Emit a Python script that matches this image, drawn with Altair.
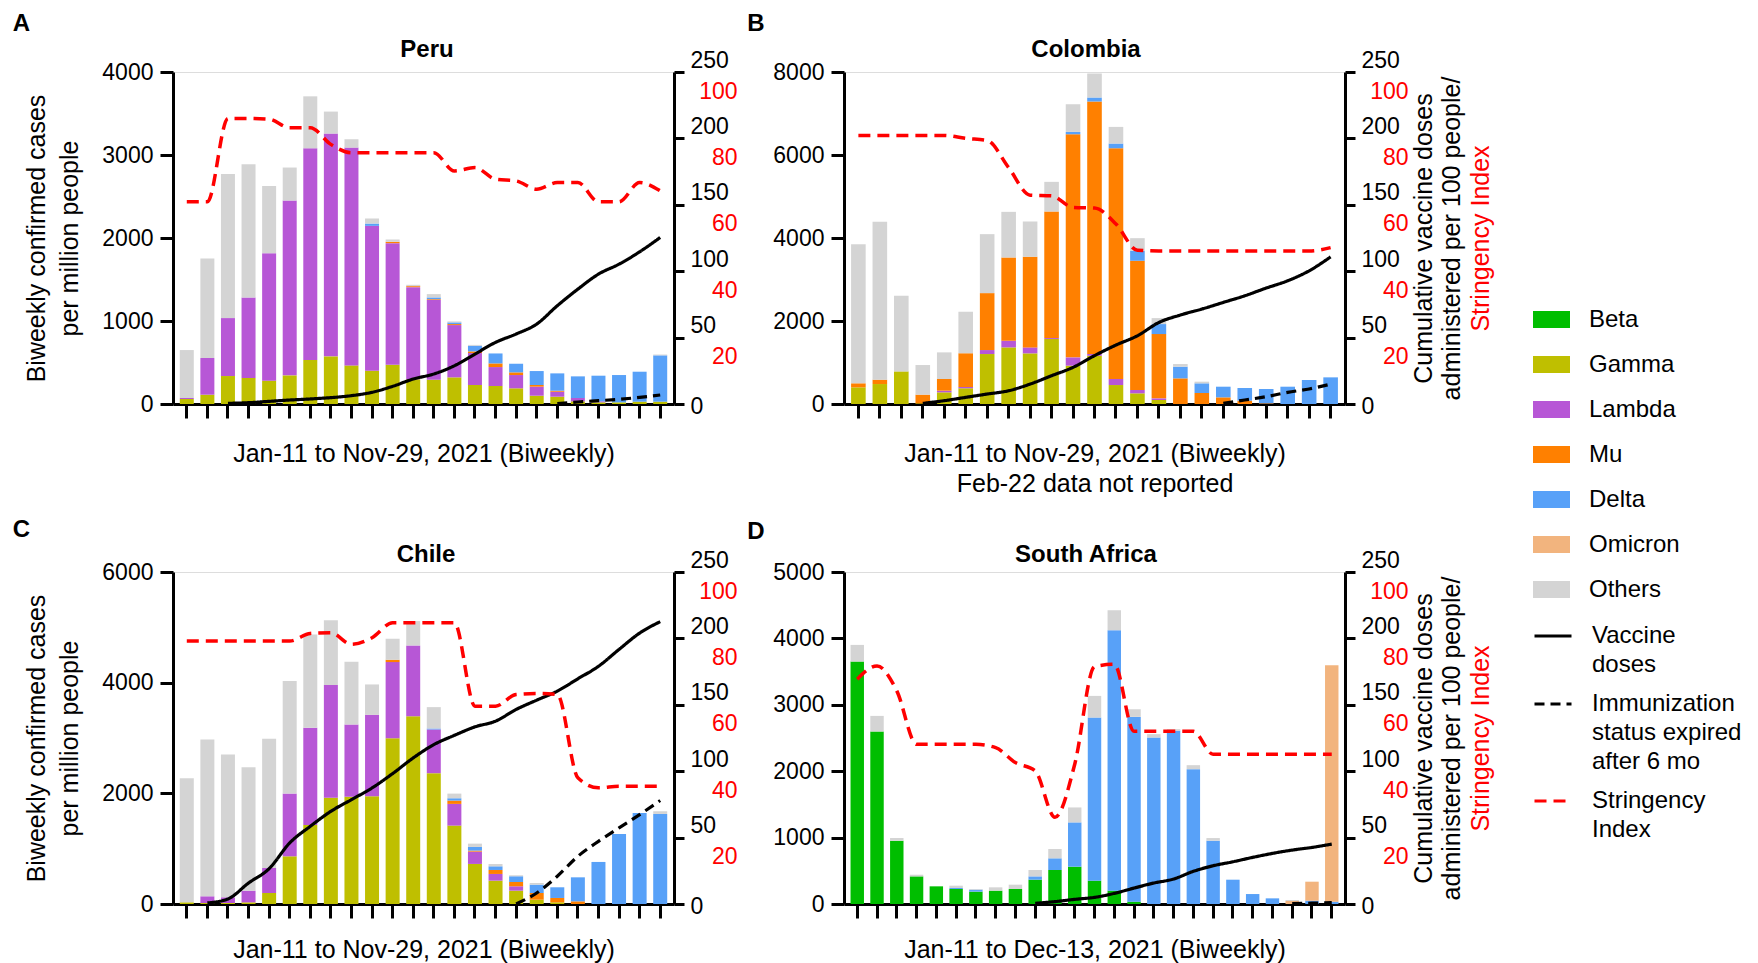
import altair as alt
import pandas as pd

FONT = "Liberation Sans, Arial, Helvetica, sans-serif"

# ---------------- categories ----------------
DATES = ["Jan-11", "Jan-25", "Feb-08", "Feb-22", "Mar-08", "Mar-22", "Apr-05", "Apr-19",
         "May-03", "May-17", "May-31", "Jun-14", "Jun-28", "Jul-12", "Jul-26", "Aug-09",
         "Aug-23", "Sep-06", "Sep-20", "Oct-04", "Oct-18", "Nov-01", "Nov-15", "Nov-29", "Dec-13"]
DATES_PERU = DATES[:24]
DATES_CHILE = DATES[:24]
DATES_COLOMBIA = [d for d in DATES[:24] if d != "Feb-22"]
DATES_SA = DATES

VARIANTS = ["Beta", "Gamma", "Lambda", "Mu", "Delta", "Omicron", "Others"]
VARIANT_COLORS = ["#00be00", "#bfbf00", "#b757d6", "#ff8000", "#58a1f8", "#f2b47e", "#d4d4d4"]

LINE_SERIES = ["Vaccine doses", "Immunization status expired after 6 mo", "Stringency Index"]
LINE_COLORS = ["#000000", "#000000", "#ff0000"]
LINE_DASHES = [[1, 0], [10, 6], [12, 7]]
LINE_LABELS = {"Vaccine doses": ["Vaccine", "doses"],
               "Immunization status expired after 6 mo": ["Immunization", "status expired", "after 6 mo"],
               "Stringency Index": ["Stringency", "Index"]}

# ---------------- Peru ----------------
PERU_GAMMA = [60, 112, 337, 313, 281, 345, 530, 574, 465, 401, 473, 297, 293, 321, 229, 217, 189, 100, 88, 32, 20, 20, 28, 28]
PERU_LAMBDA = [12, 442, 698, 971, 1536, 2106, 2551, 2684, 2624, 1745, 1465, 1111, 963, 630, 385, 228, 160, 109, 60, 40, 12, 0, 0, 0]
PERU_MU = [0, 0, 0, 0, 0, 0, 0, 0, 0, 0, 16, 12, 8, 12, 20, 44, 32, 20, 12, 0, 0, 0, 0, 0]
PERU_DELTA = [0, 0, 0, 0, 0, 0, 0, 0, 0, 28, 0, 0, 20, 20, 68, 120, 104, 168, 209, 261, 309, 329, 361, 558]
PERU_OTHERS = [578, 1199, 1737, 1605, 811, 398, 626, 265, 101, 61, 28, 16, 40, 12, 10, 0, 0, 0, 0, 0, 0, 0, 0, 10]
PERU_VACCINE_START = "Feb-08"
PERU_VACCINE = [0.5, 1, 2, 3, 3.8, 4.8, 6.3, 8.8, 13.3, 18.8, 22.6, 28.8, 37.6, 46.4, 52.7, 60.2, 74, 86.5, 97.8, 105.3, 114.6, 125.4]
PERU_IMMUN_START = "Sep-20"
PERU_IMMUN = [0.3, 1.5, 2.5, 3.5, 5, 6.8]
PERU_STRINGENCY = [60.9, 60.9, 86, 86, 85.8, 83.2, 83.2, 78.2, 75.7, 75.7, 75.7, 75.7, 75.7, 70.2, 71.2, 67.7, 67.2, 64.7, 66.7, 66.7, 60.9, 60.9, 66.7, 64.2]

# ---------------- Colombia ----------------
COL_GAMMA = [401, 481, 786, 16, 281, 377, 1204, 1364, 1220, 1565, 923, 1164, 457, 257, 96, 0, 0, 0, 0, 0, 0, 0, 0]
COL_LAMBDA = [0, 0, 0, 0, 40, 32, 96, 161, 144, 24, 201, 40, 145, 80, 40, 0, 0, 0, 0, 0, 0, 0, 0]
COL_MU = [97, 105, 0, 209, 281, 811, 1372, 2006, 2183, 3049, 5376, 6083, 5561, 3114, 1549, 618, 265, 160, 80, 16, 0, 0, 0]
COL_DELTA = [0, 0, 0, 0, 0, 0, 0, 0, 0, 0, 56, 96, 113, 241, 241, 281, 233, 257, 305, 345, 417, 578, 642]
COL_OTHERS = [3354, 3804, 1822, 714, 642, 1003, 1421, 1099, 851, 715, 667, 578, 401, 304, 144, 64, 40, 0, 0, 0, 0, 0, 0]
COL_VACCINE_START = "Mar-08"
COL_VACCINE = [0.5, 2.5, 5, 7.5, 10, 15, 21.3, 27.6, 36.4, 44.4, 51.4, 61.4, 67, 71.5, 76.5, 81.5, 87.3, 92.8, 100.3, 110.8]
COL_IMMUN_START = "Sep-20"
COL_IMMUN = [0.5, 3, 5.5, 8.8, 11.3, 15]
COL_STRINGENCY = [80.9, 80.9, 80.9, 80.9, 80.9, 80, 79.4, 71.2, 62.9, 62.7, 59.2, 59, 54.2, 46.3, 46.1, 46.1, 46.1, 46.1, 46.1, 46.1, 46.1, 46.1, 47.1]

# ---------------- Chile ----------------
CHILE_GAMMA = [30, 18, 18, 30, 199, 862, 1429, 1918, 1936, 1948, 2997, 3395, 2364, 1417, 724, 422, 241, 78, 30, 0, 0, 0, 0, 0]
CHILE_LAMBDA = [0, 121, 103, 211, 452, 1134, 1755, 2038, 1308, 1471, 1375, 1278, 790, 392, 223, 121, 79, 0, 0, 0, 0, 0, 0, 0]
CHILE_MU = [0, 0, 0, 0, 0, 0, 0, 0, 0, 0, 42, 0, 0, 60, 18, 72, 78, 121, 79, 48, 0, 0, 0, 0]
CHILE_DELTA = [0, 0, 0, 0, 0, 0, 0, 0, 0, 0, 0, 0, 18, 42, 66, 66, 103, 151, 193, 434, 760, 1266, 1646, 1628]
CHILE_OTHERS = [2243, 2834, 2580, 2231, 2334, 2032, 1688, 1170, 1134, 549, 380, 440, 386, 84, 60, 42, 18, 30, 0, 0, 0, 0, 0, 48]
CHILE_VACCINE_START = "Jan-25"
CHILE_VACCINE = [0.8, 3.8, 15.8, 26.6, 46, 58.5, 69.8, 78.6, 87.4, 98.2, 110, 120, 127, 133.4, 137.7, 146.5, 153.5, 160.3, 169.6, 179, 191.7, 204, 212.6]
CHILE_IMMUN_START = "Aug-23"
CHILE_IMMUN = [0, 8.3, 20.9, 35.9, 47.2, 57.3, 67.3, 77.9]
CHILE_STRINGENCY = [79.2, 79.2, 79.2, 79.2, 79.2, 79.2, 81.5, 81.7, 78.2, 80.2, 84.7, 84.7, 84.7, 84.7, 59.6, 59.6, 63.1, 63.4, 63.1, 38, 35, 35.5, 35.5, 35.5]

# ---------------- South Africa ----------------
SA_BETA = [3651, 2598, 953, 416, 266, 226, 186, 201, 226, 366, 512, 562, 351, 201, 35, 0, 0, 0, 0, 0, 0, 0, 0, 0, 0]
SA_DELTA = [0, 0, 0, 0, 0, 15, 30, 0, 0, 50, 176, 667, 2457, 3922, 2783, 2508, 2608, 2031, 953, 366, 150, 85, 0, 50, 35]
SA_OMICRON = [0, 0, 0, 0, 0, 0, 0, 0, 0, 0, 0, 0, 0, 0, 0, 0, 0, 0, 0, 0, 0, 0, 45, 286, 3561]
SA_OTHERS = [251, 235, 40, 25, 0, 35, 10, 50, 65, 96, 140, 225, 326, 301, 115, 50, 25, 60, 40, 0, 0, 0, 15, 0, 0]
SA_VACCINE_START = "May-17"
SA_VACCINE = [0.5, 1.8, 3.5, 5, 8, 12, 15.8, 18.8, 24.6, 28.8, 31.8, 35.1, 38.1, 40.6, 42.6, 45.1]
SA_IMMUN_START = "Nov-15"
SA_IMMUN = [0.3, 0.6, 1.0]
SA_STRINGENCY = [67.7, 71.7, 64.2, 48.1, 48.1, 48.1, 48.1, 47.1, 42.6, 40.1, 26.1, 42.1, 71.5, 72.2, 52, 52, 52, 52, 45.1, 45.1, 45.1, 45.1, 45.1, 45.1, 45.1]

PANEL_W = 501
PANEL_H = 332

label_expr = " : ".join(
    f"datum.label == '{k}' ? {v!r}" for k, v in LINE_LABELS.items()
) + " : datum.label"

FILL_LEGEND = alt.Legend(
    title=None, orient="none", legendX=1360, legendY=229, padding=0,
    symbolType="M-1,-0.46H1V0.46H-1Z", symbolSize=1369, symbolStrokeWidth=0, symbolOpacity=1,
    labelFont=FONT, labelFontSize=24, labelColor="black", labelOffset=19, labelLimit=300,
    rowPadding=14,
)
LINE_LEGEND = alt.Legend(
    title=None, orient="none", legendX=1360, legendY=544, padding=0,
    symbolType="stroke", symbolSize=1369, symbolStrokeWidth=3,
    labelFont=FONT, labelFontSize=24, labelColor="black", labelOffset=19, labelLimit=300,
    labelBaseline="middle", labelExpr=label_expr, rowPadding=7,
)


def panel(name, letter, dates, variants, vaccine_start, vaccine, immun_start, immun,
          stringency, ymax, ystep, xtitle, xtitle_y, left_title, right_title,
          letter_xy, name_xy):
    rows = []
    for v, vals in variants.items():
        for d, val in zip(dates, vals):
            rows.append({"date": d, "variant": v, "order": VARIANTS.index(v), "value": val})
    bars_df = pd.DataFrame(rows)

    lrows = []
    s = dates.index(vaccine_start)
    for i, val in enumerate(vaccine):
        lrows.append({"date": dates[s + i], "idx": s + i, "series": LINE_SERIES[0], "value": val})
    s = dates.index(immun_start)
    for i, val in enumerate(immun):
        lrows.append({"date": dates[s + i], "idx": s + i, "series": LINE_SERIES[1], "value": val})
    vac_df = pd.DataFrame(lrows)

    str_df = pd.DataFrame({"date": dates, "idx": list(range(len(dates))),
                           "series": [LINE_SERIES[2]] * len(dates), "value": stringency})

    x_axis_kw = dict(labels=False, ticks=True, tickSize=14, tickWidth=3, tickColor="black",
                     domainWidth=3, domainColor="black", grid=False,
                     titleX=PANEL_W / 2, titleY=xtitle_y, titleAlign="center", titleBaseline="alphabetic",
                     titleFontSize=25, titleFont=FONT, titleFontWeight="normal", titleLineHeight=30,
                     titleColor="black")
    x = alt.X("date:O", scale=alt.Scale(domain=dates, paddingInner=0.32, paddingOuter=0.33),
              axis=alt.Axis(title=xtitle, **x_axis_kw))

    left_kw = dict(orient="left", values=list(range(0, ymax + 1, ystep)), format="d", domainWidth=3,
                   domainColor="black", tickWidth=3, tickSize=13, tickColor="black",
                   labelFontSize=23, labelFont=FONT, labelColor="black", labelPadding=7,
                   labelFlush=False, labelOverlap=False, grid=False,
                   titleAngle=270, titleX=-136.5, titleY=PANEL_H / 2, titleAlign="center",
                   titleBaseline="middle", titleFontSize=25, titleFont=FONT,
                   titleFontWeight="normal", titleLineHeight=33, titleColor="black")
    bars = alt.Chart(bars_df).mark_bar().encode(
        x=x,
        y=alt.Y("value:Q", stack="zero", scale=alt.Scale(domain=[0, ymax], nice=False),
                axis=alt.Axis(title=left_title, **left_kw)),
        color=alt.Color("variant:N", scale=alt.Scale(domain=VARIANTS, range=VARIANT_COLORS),
                        legend=FILL_LEGEND),
        order=alt.Order("order:Q"),
    )

    right_kw = dict(orient="right", values=[0, 50, 100, 150, 200, 250], format="d", domainWidth=3,
                    domainColor="black", tickWidth=3, tickSize=10, tickColor="black",
                    labelFontSize=23, labelFont=FONT, labelColor="black", labelPadding=6,
                    labelAlign="left", labelBaseline="middle", labelFlush=False, labelOverlap=False,
                    labelOffset={"condition": {"test": "datum.value == 0", "value": 2}, "value": -12},
                    grid=False, titleAngle=270, titleX=78, titleY=PANEL_H / 2, titleAlign="center",
                    titleBaseline="middle", titleFontSize=25, titleFont=FONT,
                    titleFontWeight="normal", titleLineHeight=28, titleColor="black")
    stroke_enc = alt.Stroke("series:N", scale=alt.Scale(domain=LINE_SERIES, range=LINE_COLORS),
                            legend=LINE_LEGEND)
    dash_enc = alt.StrokeDash("series:N", scale=alt.Scale(domain=LINE_SERIES, range=LINE_DASHES),
                              legend=LINE_LEGEND)
    vac = alt.Chart(vac_df).mark_line(strokeWidth=3.2, interpolate="monotone").encode(
        x=x,
        y=alt.Y("value:Q", scale=alt.Scale(domain=[0, 250], nice=False),
                axis=alt.Axis(title=right_title, **right_kw)),
        stroke=stroke_enc, strokeDash=dash_enc, order=alt.Order("idx:Q"),
    )

    red_kw = dict(orient="right", values=[20, 40, 60, 80, 100], format="d", domain=False, ticks=False,
                  tickSize=0, labelFontSize=23, labelFont=FONT, labelColor="#ff0000",
                  labelPadding=63, labelAlign="right", labelBaseline="middle", labelOffset=19,
                  labelFlush=False, labelOverlap=False, grid=False,
                  titleAngle=270, titleX=135, titleY=PANEL_H / 2, titleAlign="center",
                  titleBaseline="middle", titleFontSize=25, titleFont=FONT,
                  titleFontWeight="normal", titleColor="#ff0000")
    red = alt.Chart(str_df).mark_line(strokeWidth=3.5, interpolate="monotone").encode(
        x=x,
        y=alt.Y("value:Q", scale=alt.Scale(domain=[0, 100], nice=False),
                axis=alt.Axis(title="Stringency Index" if right_title else None, **red_kw)),
        stroke=stroke_enc, strokeDash=dash_enc, order=alt.Order("idx:Q"),
    )

    lab_df = pd.DataFrame({"letter": [letter], "name": [name]})
    letter_mark = alt.Chart(lab_df).mark_text(
        font=FONT, fontSize=24, fontWeight="bold", align="center", baseline="middle", color="black"
    ).encode(x=alt.value(letter_xy[0]), y=alt.value(letter_xy[1]), text="letter:N")
    name_mark = alt.Chart(lab_df).mark_text(
        font=FONT, fontSize=24, fontWeight="bold", align="center", baseline="middle", color="black"
    ).encode(x=alt.value(name_xy[0]), y=alt.value(name_xy[1]), text="name:N")

    return alt.layer(bars, vac, red, letter_mark, name_mark).resolve_scale(
        y="independent"
    ).properties(width=PANEL_W, height=PANEL_H)


LEFT_TITLE = ["Biweekly confirmed cases", "per million people"]
RIGHT_TITLE = ["Cumulative vaccine doses", "administered per 100 people/"]

pA = panel("Peru", "A", DATES_PERU,
           {"Gamma": PERU_GAMMA, "Lambda": PERU_LAMBDA, "Mu": PERU_MU, "Delta": PERU_DELTA, "Others": PERU_OTHERS},
           PERU_VACCINE_START, PERU_VACCINE, PERU_IMMUN_START, PERU_IMMUN, PERU_STRINGENCY,
           4000, 1000, "Jan-11 to Nov-29, 2021 (Biweekly)", 57, LEFT_TITLE, None,
           (-151.5, -48), (254, -22))
pB = panel("Colombia", "B", DATES_COLOMBIA,
           {"Gamma": COL_GAMMA, "Lambda": COL_LAMBDA, "Mu": COL_MU, "Delta": COL_DELTA, "Others": COL_OTHERS},
           COL_VACCINE_START, COL_VACCINE, COL_IMMUN_START, COL_IMMUN, COL_STRINGENCY,
           8000, 2000, ["Jan-11 to Nov-29, 2021 (Biweekly)", "Feb-22 data not reported"], 57, None, RIGHT_TITLE,
           (-88, -48), (242, -22))
pC = panel("Chile", "C", DATES_CHILE,
           {"Gamma": CHILE_GAMMA, "Lambda": CHILE_LAMBDA, "Mu": CHILE_MU, "Delta": CHILE_DELTA, "Others": CHILE_OTHERS},
           CHILE_VACCINE_START, CHILE_VACCINE, CHILE_IMMUN_START, CHILE_IMMUN, CHILE_STRINGENCY,
           6000, 2000, "Jan-11 to Nov-29, 2021 (Biweekly)", 53, LEFT_TITLE, None,
           (-151.5, -42), (253, -17))
pD = panel("South Africa", "D", DATES_SA,
           {"Beta": SA_BETA, "Delta": SA_DELTA, "Omicron": SA_OMICRON, "Others": SA_OTHERS},
           SA_VACCINE_START, SA_VACCINE, SA_IMMUN_START, SA_IMMUN, SA_STRINGENCY,
           5000, 1000, "Jan-11 to Dec-13, 2021 (Biweekly)", 53, None, RIGHT_TITLE,
           (-88, -40), (242, -17))

chart = alt.concat(
    pA, pB, pC, pD, columns=2, spacing={"row": 168, "column": 170}, bounds="flush"
).resolve_scale(
    color="shared", stroke="shared", strokeDash="shared"
).properties(
    padding={"left": 4, "top": 3, "right": 5, "bottom": 0}
).configure_view(stroke=None).configure(
    font=FONT, style={"guide-label": {"lineHeight": 29}}
)

chart.save("out.html", embed_options={"renderer": "svg", "actions": False})
